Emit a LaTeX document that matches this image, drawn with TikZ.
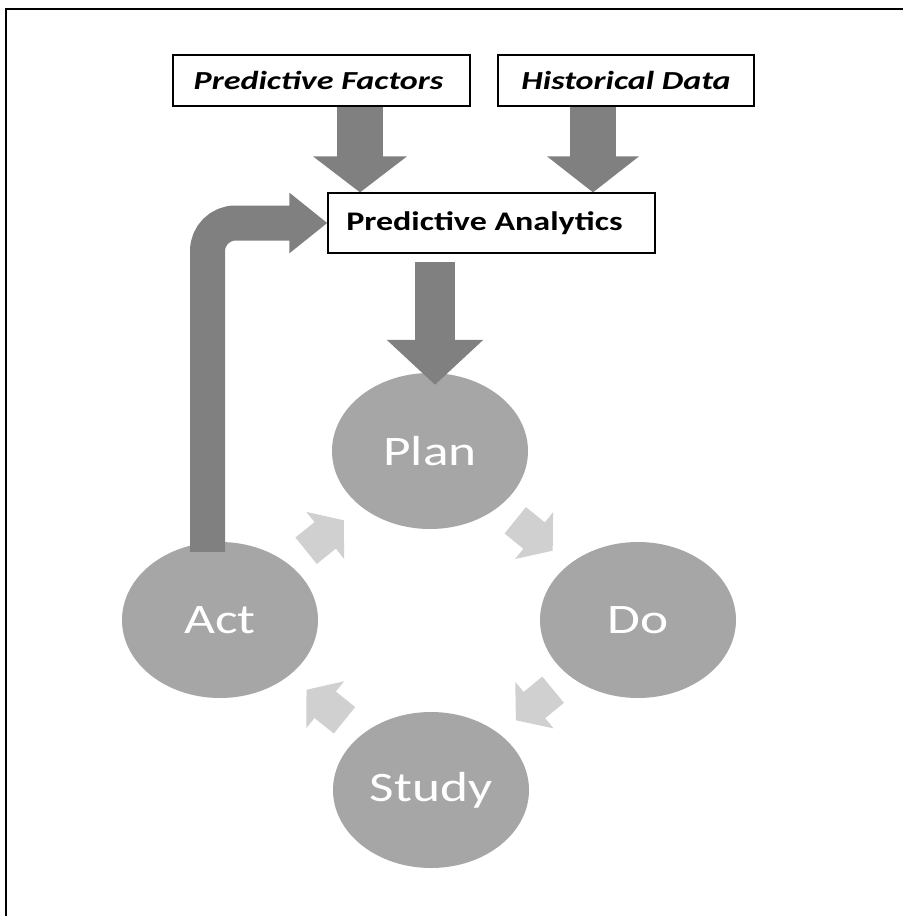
\documentclass[tikz,border=0pt]{standalone}
\usepackage{fontspec}
\setmainfont{Carlito}
\usepackage{graphicx}
\usetikzlibrary{arrows.meta,shapes.geometric,calc}
\definecolor{darkarr}{RGB}{128,128,128}
\definecolor{circ}{RGB}{166,166,166}
\definecolor{lightarr}{RGB}{208,208,208}
\newcommand{\sx}[1]{\scalebox{1.27}[1]{#1}}
\newcommand{\sxb}[1]{\scalebox{1.31}[1]{#1}}
\begin{document}
\begin{tikzpicture}[x=1pt,y=-1pt,
  box/.style={draw=black, line width=1.2pt, fill=white, inner sep=0pt, rectangle},
  phase/.style={ellipse, fill=circ, minimum width=196pt, minimum height=156pt, inner sep=0pt, text=white, font=\fontsize{42}{42}\selectfont},
  bigarr/.style={draw=darkarr, line width=#1},
  cyc/.style={draw=lightarr, line width=34pt, -{Triangle[width=59pt,length=24pt]}},
]
\useasboundingbox (0,0) rectangle (903,916);
\fill[white] (0,0) rectangle (903,916);
\draw[line width=2pt] (6,916) -- (6,9) -- (903,9);

\node[box, minimum width=297pt, minimum height=51pt] (pf) at (321.5,80.5) {\fontsize{26}{26}\selectfont\bfseries\itshape\sxb{Predictive Factors}\hspace*{6pt}};
\node[box, minimum width=256pt, minimum height=51pt] (hd) at (626,80.5) {\fontsize{26}{26}\selectfont\bfseries\itshape\sxb{Historical Data}};
\node[box, minimum width=327pt, minimum height=60pt] (pa) at (491.5,223) {\fontsize{26.8}{26.8}\selectfont\bfseries\sx{Predictive Analytics}\hspace*{14pt}};

\node[phase] (plan) at (430,451) {\sx{Plan}};
\node[phase] (do) at (638,620) {\sx{Do}};
\node[phase] (study) at (431,790) {\sx{Study}};
\node[phase] (act) at (220,620) {\sx{Act}};

\coordinate (pfa) at ([xshift=38.5pt]pf.south);
\coordinate (hda) at ([xshift=-33pt]hd.south);
\draw[bigarr=46pt, -{Triangle[width=92pt,length=36pt]}] (pfa) -- (pfa |- pa.north);
\draw[bigarr=46pt, -{Triangle[width=90pt,length=36pt]}] (hda) -- (hda |- pa.north);

\coordinate (pa1) at ([xshift=-56.5pt, yshift=-8pt]pa.south);
\coordinate (pa2) at ($(pa1 |- plan.north)+(0,12)$);
\draw[bigarr=40pt, -{Triangle[width=94pt,length=45pt]}] (pa1) -- (pa2);

\coordinate (lp) at ($(act.north)+(-12.5,10)$);
\draw[bigarr=35pt, rounded corners=28pt, -{Triangle[width=58pt,length=38pt]}] (lp) |- (pa.west);

\draw[cyc] ($(act)!0.41!(plan)$) -- ($(act)!0.59!(plan)$);
\draw[cyc] ($(plan)!0.41!(do)$) -- ($(plan)!0.59!(do)$);
\draw[cyc] ($(do)!0.41!(study)$) -- ($(do)!0.59!(study)$);
\draw[cyc] ($(study)!0.41!(act)$) -- ($(study)!0.59!(act)$);
\end{tikzpicture}
\end{document}
